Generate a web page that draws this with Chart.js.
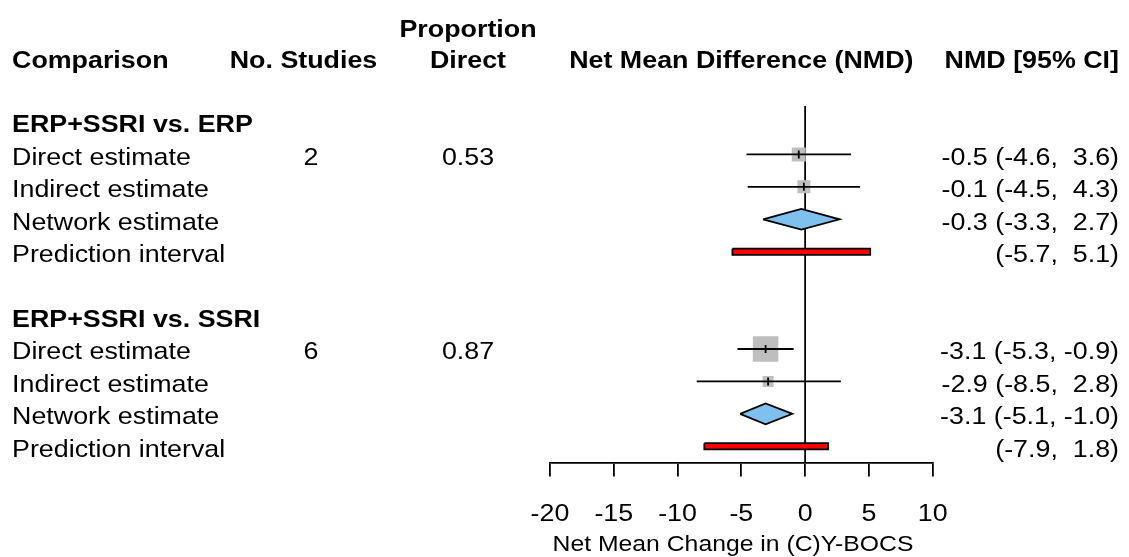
<!DOCTYPE html>
<html>
<head>
<meta charset="utf-8">
<title>Net Mean Difference forest plot</title>
<script src="https://cdn.jsdelivr.net/npm/chart.js@4.4.1/dist/chart.umd.min.js"></script>
<style>
  html, body { margin: 0; padding: 0; background: #ffffff; }
  #wrap { width: 1129px; height: 557px; position: relative; }
</style>
</head>
<body>
<div id="wrap"><canvas id="forest" width="1129" height="557"></canvas></div>
<script>
// ---- data -------------------------------------------------------------
const comparisons   = ['ERP+SSRI vs. ERP', 'ERP+SSRI vs. SSRI'];
const nStudies      = ['2', '6'];
const propDirect    = ['0.53', '0.87'];
const rowLabels     = ['Direct estimate', 'Indirect estimate', 'Network estimate', 'Prediction interval'];

const directEst     = [-0.5, -3.1];
const directLo      = [-4.6, -5.3];
const directHi      = [ 3.6, -0.9];

const indirectEst   = [-0.1, -2.9];
const indirectLo    = [-4.5, -8.5];
const indirectHi    = [ 4.3,  2.8];

const networkEst    = [-0.3, -3.1];
const networkLo     = [-3.3, -5.1];
const networkHi     = [ 2.7, -1.0];

const predLo        = [-5.7, -7.9];
const predHi        = [ 5.1,  1.8];

const xTickValues   = [-20, -15, -10, -5, 0, 5, 10];

// ---- styling ----------------------------------------------------------
const FONT = '"Liberation Sans", Arial, Helvetica, sans-serif';
const FS = 24.4;          // text size
const SX = 1.1;           // horizontal text stretch
const LW = 1.8;           // line width
const SQUARE_SIDE = [[14, 13], [25.5, 11]];   // px side of direct / indirect squares
const DIAMOND_HALF = 0.32;   // half height of diamond, in rows
const PI_HALF = 0.095;       // half height of prediction bar, in rows
const GREY = '#bebebe';
const BLUE = '#7ec0ee';
const RED = '#ff0000';

// row layout: group g header at g*6, its four estimate rows follow
const groupRow = g => g * 6;

// ---- datasets ---------------------------------------------------------
const datasets = [];

// vertical line of no effect
datasets.push({
  data: [{x: 0, y: -0.5}, {x: 0, y: 10.5}],
  showLine: true, borderColor: '#000', borderWidth: LW, pointRadius: 0, order: 20
});

// squares (weight boxes)
const sqPts = [], sqRad = [];
comparisons.forEach((c, g) => {
  sqPts.push({x: directEst[g], y: groupRow(g) + 1});
  sqRad.push(SQUARE_SIDE[g][0] / Math.SQRT2);
  sqPts.push({x: indirectEst[g], y: groupRow(g) + 2});
  sqRad.push(SQUARE_SIDE[g][1] / Math.SQRT2);
});
datasets.push({
  data: sqPts, pointStyle: 'rect', pointRadius: sqRad, pointHoverRadius: sqRad,
  backgroundColor: GREY, borderWidth: 0, showLine: false, order: 15
});

// confidence interval whiskers
comparisons.forEach((c, g) => {
  [[directLo, directHi, 1], [indirectLo, indirectHi, 2]].forEach(([lo, hi, k]) => {
    datasets.push({
      data: [{x: lo[g], y: groupRow(g) + k}, {x: hi[g], y: groupRow(g) + k}],
      showLine: true, borderColor: '#000', borderWidth: LW, pointRadius: 0, order: 10
    });
  });
});

// point estimate marks inside squares
const tickPts = [];
comparisons.forEach((c, g) => {
  tickPts.push({x: directEst[g], y: groupRow(g) + 1});
  tickPts.push({x: indirectEst[g], y: groupRow(g) + 2});
});
datasets.push({
  data: tickPts, pointStyle: 'line', rotation: 90, pointRadius: 4, pointHoverRadius: 4,
  borderColor: '#000', borderWidth: LW, showLine: false, order: 8
});

// network estimate diamonds
comparisons.forEach((c, g) => {
  const r = groupRow(g) + 3;
  datasets.push({
    data: [
      {x: networkLo[g], y: r},
      {x: networkEst[g], y: r - DIAMOND_HALF},
      {x: networkHi[g], y: r},
      {x: networkEst[g], y: r + DIAMOND_HALF},
      {x: networkLo[g], y: r}
    ],
    showLine: true, fill: 'shape', backgroundColor: BLUE, borderColor: '#000',
    borderWidth: LW, borderJoinStyle: 'miter', pointRadius: 0, tension: 0, order: 5
  });
});

// prediction interval bars
comparisons.forEach((c, g) => {
  const r = groupRow(g) + 4;
  datasets.push({
    data: [
      {x: predLo[g], y: r - PI_HALF},
      {x: predHi[g], y: r - PI_HALF},
      {x: predHi[g], y: r + PI_HALF},
      {x: predLo[g], y: r + PI_HALF},
      {x: predLo[g], y: r - PI_HALF}
    ],
    showLine: true, fill: 'shape', backgroundColor: RED, borderColor: '#000',
    borderWidth: LW, borderJoinStyle: 'miter', pointRadius: 0, tension: 0, order: 4
  });
});

// ---- text columns -----------------------------------------------------
function put(ctx, s, x, y, size, bold, align) {
  ctx.save();
  ctx.font = (bold ? 'bold ' : '') + size + 'px ' + FONT;
  ctx.textAlign = align;
  ctx.textBaseline = 'alphabetic';
  ctx.fillStyle = '#000';
  ctx.translate(x, y + size * 0.358);
  ctx.scale(SX, 1);
  ctx.fillText(s, 0, 0);
  ctx.restore();
}
const f1 = v => v.toFixed(1);
const ci = (lo, hi) => '(' + f1(lo) + ', ' + (hi >= 0 ? ' ' : '') + f1(hi) + ')';

const tablePlugin = {
  id: 'forestTable',
  afterDraw(chart) {
    const {ctx, scales: {x, y}} = chart;
    const rowY = r => y.getPixelForValue(r) + 1.5;
    const COL_LABEL = 12, COL_N = 311, COL_P = 468, COL_CI = 1119;

    // column headers
    const h2 = 59.5, h1 = 28;
    put(ctx, 'Comparison', COL_LABEL, h2, FS, true, 'left');
    put(ctx, 'No. Studies', 303.5, h2, FS, true, 'center');
    put(ctx, 'Proportion', COL_P, h1, FS, true, 'center');
    put(ctx, 'Direct', COL_P, h2, FS, true, 'center');
    put(ctx, 'Net Mean Difference (NMD)', (x.left + x.right) / 2, h2, FS, true, 'center');
    put(ctx, 'NMD [95% CI]', COL_CI, h2, FS, true, 'right');

    comparisons.forEach((c, g) => {
      const b = groupRow(g);
      put(ctx, c, COL_LABEL, rowY(b), FS, true, 'left');
      rowLabels.forEach((lab, k) => put(ctx, lab, COL_LABEL, rowY(b + 1 + k), FS, false, 'left'));
      put(ctx, nStudies[g], COL_N, rowY(b + 1), FS, false, 'center');
      put(ctx, propDirect[g], COL_P, rowY(b + 1), FS, false, 'center');
      put(ctx, f1(directEst[g]) + ' ' + ci(directLo[g], directHi[g]), COL_CI, rowY(b + 1), FS, false, 'right');
      put(ctx, f1(indirectEst[g]) + ' ' + ci(indirectLo[g], indirectHi[g]), COL_CI, rowY(b + 2), FS, false, 'right');
      put(ctx, f1(networkEst[g]) + ' ' + ci(networkLo[g], networkHi[g]), COL_CI, rowY(b + 3), FS, false, 'right');
      put(ctx, ci(predLo[g], predHi[g]), COL_CI, rowY(b + 4), FS, false, 'right');
    });

    // x axis tick labels and title
    x.ticks.forEach(t => put(ctx, String(t.value), x.getPixelForValue(t.value), 512, FS, false, 'center'));
    put(ctx, 'Net Mean Change in (C)Y-BOCS', 733, 543, 22.5, false, 'center');
  }
};

// ---- chart ------------------------------------------------------------
new Chart(document.getElementById('forest'), {
  type: 'scatter',
  data: { datasets },
  options: {
    responsive: false,
    animation: false,
    events: [],
    layout: { padding: { left: 550, right: 196.3, top: 105.8, bottom: 0 } },
    plugins: { legend: { display: false }, tooltip: { enabled: false } },
    scales: {
      x: {
        type: 'linear', position: 'bottom', min: -20, max: 10,
        afterBuildTicks: s => { s.ticks = xTickValues.map(v => ({value: v})); },
        afterFit: s => { s.height = 557 - 462.5; },
        ticks: { display: false },
        grid: { display: true, drawOnChartArea: false, drawTicks: true, tickLength: 14, color: '#000', lineWidth: LW },
        border: { display: true, color: '#000', width: LW }
      },
      y: {
        type: 'linear', display: false, min: -0.5, max: 10.5, reverse: true
      }
    }
  },
  plugins: [tablePlugin]
});
</script>
</body>
</html>
